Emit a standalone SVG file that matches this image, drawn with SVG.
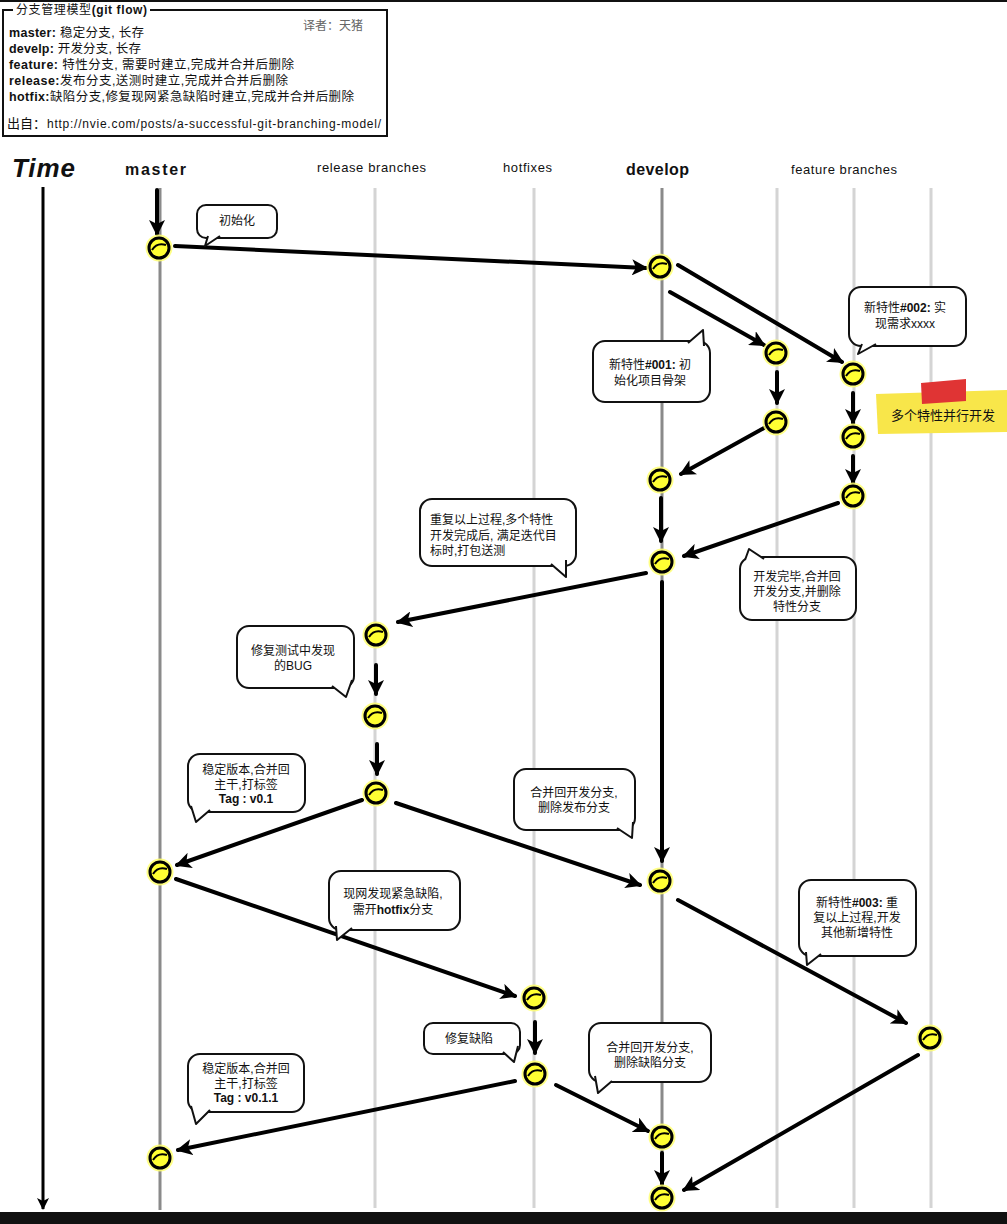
<svg xmlns="http://www.w3.org/2000/svg" width="1007" height="1224" viewBox="0 0 1007 1224">
<style>
  text { font-family: "Liberation Sans", "Noto Sans CJK SC", sans-serif; fill: #111; }
  .cn { font-size: 12px; }
  .hdr { font-size: 13px; }
  .hdrb { font-size: 16px; font-weight: bold; }
  .lane { stroke: #d4d4d4; stroke-width: 3; }
  .lanem { stroke: #8a8a8a; stroke-width: 3; }
  .arr { stroke: #000; stroke-width: 4; fill: none; marker-end: url(#ah); stroke-linecap: round; }
  .bub { fill: #fff; stroke: #111; stroke-width: 2; }
  .tail { fill: #fff; stroke: #111; stroke-width: 2; stroke-linejoin: round; }
  .mid { text-anchor: middle; }
  .lg { font-size: 12.5px; }
</style>
<defs>
  <marker id="ah" markerUnits="userSpaceOnUse" markerWidth="18" markerHeight="16" refX="14" refY="8" orient="auto">
    <path d="M0,0 L16,8 L0,16 L4,8 z" fill="#000"/>
  </marker>
  <marker id="aht" markerUnits="userSpaceOnUse" markerWidth="14" markerHeight="14" refX="11" refY="6" orient="auto">
    <path d="M0,0 L12,6 L0,12 L3,6 z" fill="#000"/>
  </marker>
  <g id="commit">
    <circle r="13.5" fill="#ffff70" opacity="0.85"/>
    <circle r="10" fill="#ffff33" stroke="#000" stroke-width="3"/>
    <path d="M-7,2 Q-2,-6 7,-3" fill="none" stroke="#000" stroke-width="2"/>
  </g>
</defs>
<rect x="0" y="0" width="1007" height="1224" fill="#fff"/>
<rect x="0" y="0" width="1007" height="2" fill="#111"/>
<rect x="0" y="1212" width="1007" height="12" fill="#111"/>

<g id="legend">
  <rect x="3" y="10" width="384" height="126" fill="#fff" stroke="#111" stroke-width="2"/>
  <rect x="13" y="3" width="137" height="14" fill="#fff"/>
  <text x="16" y="14" style="font-size:12px" textLength="131">分支管理模型<tspan font-weight="bold">(git flow)</tspan></text>
  <text x="303" y="30" style="font-size:12px;fill:#666">译者：天猪</text>
  <text x="9" y="37" class="lg" textLength="135"><tspan font-weight="bold">master:</tspan> 稳定分支, 长存</text>
  <text x="9" y="53" class="lg" textLength="132"><tspan font-weight="bold">develp:</tspan> 开发分支, 长存</text>
  <text x="9" y="69" class="lg" textLength="285"><tspan font-weight="bold">feature:</tspan> 特性分支, 需要时建立,完成并合并后删除</text>
  <text x="9" y="85" class="lg" textLength="279"><tspan font-weight="bold">release:</tspan>发布分支,送测时建立,完成并合并后删除</text>
  <text x="9" y="101" class="lg" textLength="345"><tspan font-weight="bold">hotfix:</tspan>缺陷分支,修复现网紧急缺陷时建立,完成并合并后删除</text>
  <text x="7" y="128" style="font-size:13px">出自：</text>
  <text x="47" y="128" style="font-size:12px" textLength="334">http://nvie.com/posts/a-successful-git-branching-model/</text>
</g>

<g id="headers">
  <text x="12" y="177" style="font-size:26px;font-weight:bold;font-style:italic" textLength="63">Time</text>
  <text x="125" y="175" class="hdrb" textLength="61">master</text>
  <text x="317" y="172" class="hdr" textLength="109">release branches</text>
  <text x="503" y="172" class="hdr" textLength="49">hotfixes</text>
  <text x="626" y="175" class="hdrb" textLength="63">develop</text>
  <text x="791" y="174" class="hdr" textLength="106">feature branches</text>
</g>

<g id="lanes">
  <line x1="160" y1="188" x2="160" y2="1210" class="lanem"/>
  <line x1="375" y1="188" x2="375" y2="1208" class="lane"/>
  <line x1="534" y1="188" x2="534" y2="1208" class="lane"/>
  <line x1="662" y1="188" x2="662" y2="1210" class="lanem"/>
  <line x1="777" y1="188" x2="777" y2="1208" class="lane"/>
  <line x1="854" y1="188" x2="854" y2="1208" class="lane"/>
  <line x1="931" y1="188" x2="931" y2="1208" class="lane"/>
</g>

<g id="connectors">
  <line x1="43" y1="187" x2="43" y2="1209" stroke="#000" stroke-width="3" marker-end="url(#aht)"/>
  <line x1="157" y1="190" x2="157" y2="234" class="arr"/>
  <line x1="175" y1="246" x2="646" y2="268" class="arr"/>
  <line x1="678" y1="265" x2="842" y2="362" class="arr"/>
  <line x1="670" y1="292" x2="764" y2="345" class="arr"/>
  <line x1="777" y1="372" x2="777" y2="403" class="arr"/>
  <line x1="853" y1="393" x2="853" y2="423" class="arr"/>
  <line x1="764" y1="428" x2="681" y2="474" class="arr"/>
  <line x1="853" y1="456" x2="853" y2="483" class="arr"/>
  <line x1="661" y1="498" x2="661" y2="541" class="arr"/>
  <line x1="838" y1="503" x2="684" y2="556" class="arr"/>
  <line x1="646" y1="573" x2="398" y2="622" class="arr"/>
  <line x1="662" y1="582" x2="662" y2="861" class="arr"/>
  <line x1="376" y1="665" x2="376" y2="694" class="arr"/>
  <line x1="377" y1="744" x2="377" y2="774" class="arr"/>
  <line x1="362" y1="800" x2="177" y2="865" class="arr"/>
  <line x1="396" y1="803" x2="640" y2="885" class="arr"/>
  <line x1="176" y1="879" x2="515" y2="996" class="arr"/>
  <line x1="678" y1="900" x2="906" y2="1023" class="arr"/>
  <line x1="535" y1="1022" x2="535" y2="1053" class="arr"/>
  <line x1="515" y1="1081" x2="178" y2="1150" class="arr"/>
  <line x1="556" y1="1085" x2="648" y2="1131" class="arr"/>
  <line x1="662" y1="1153" x2="662" y2="1184" class="arr"/>
  <line x1="918" y1="1055" x2="684" y2="1190" class="arr"/>
</g>

<g id="commits">
  <use href="#commit" x="159" y="248"/>
  <use href="#commit" x="660" y="267"/>
  <use href="#commit" x="776" y="353"/>
  <use href="#commit" x="853" y="374"/>
  <use href="#commit" x="776" y="422"/>
  <use href="#commit" x="853" y="437"/>
  <use href="#commit" x="660" y="480"/>
  <use href="#commit" x="853" y="496"/>
  <use href="#commit" x="662" y="562"/>
  <use href="#commit" x="376" y="635"/>
  <use href="#commit" x="375" y="716"/>
  <use href="#commit" x="376" y="793"/>
  <use href="#commit" x="160" y="872"/>
  <use href="#commit" x="660" y="881"/>
  <use href="#commit" x="534" y="998"/>
  <use href="#commit" x="930" y="1038"/>
  <use href="#commit" x="535" y="1074"/>
  <use href="#commit" x="662" y="1137"/>
  <use href="#commit" x="160" y="1158"/>
  <use href="#commit" x="662" y="1198"/>
</g>

<g id="note-init">
  <rect x="197" y="205" width="80" height="33" rx="9" class="bub"/>
  <path d="M208,236 L205,246 L220,236" class="tail"/>
  <text x="237" y="225" class="cn mid">初始化</text>
</g>

<g id="note-f002">
  <rect x="849" y="287" width="117" height="59" rx="12" class="bub"/>
  <path d="M862,344 L858,354 L876,344" class="tail"/>
  <text x="905" y="312" class="cn mid">新特性<tspan font-weight="bold">#002:</tspan> 实</text>
  <text x="905" y="328" class="cn mid">现需求xxxx</text>
</g>

<g id="note-f001">
  <rect x="593" y="341" width="117" height="61" rx="12" class="bub"/>
  <path d="M688,343 L703,330 L704,346" class="tail"/>
  <text x="650" y="369" class="cn mid">新特性<tspan font-weight="bold">#001:</tspan> 初</text>
  <text x="650" y="385" class="cn mid">始化项目骨架</text>
</g>

<g id="sticky">
  <polygon points="876,394 1007,390 1007,432 878,434" fill="#f8e64a"/>
  <polygon points="921,383 966,379 966,401 922,404" fill="#e03434"/>
  <text x="943" y="420" class="mid" style="font-size:13px">多个特性并行开发</text>
</g>

<g id="note-repeat">
  <rect x="420" y="499" width="156" height="67" rx="12" class="bub"/>
  <path d="M551,564 L566,577 L566,560" class="tail"/>
  <text x="430" y="524" class="cn">重复以上过程,多个特性</text>
  <text x="430" y="540" class="cn">开发完成后, 满足迭代目</text>
  <text x="430" y="555" class="cn">标时,打包送测</text>
</g>

<g id="note-done">
  <rect x="740" y="557" width="116" height="63" rx="12" class="bub"/>
  <path d="M745,560 L749,549 L764,559" class="tail"/>
  <text x="797" y="581" class="cn mid">开发完毕,合并回</text>
  <text x="797" y="596" class="cn mid">开发分支,并删除</text>
  <text x="797" y="611" class="cn mid">特性分支</text>
</g>

<g id="note-bug">
  <rect x="237" y="626" width="117" height="62" rx="12" class="bub"/>
  <path d="M332,686 L346,697 L352,680" class="tail"/>
  <text x="293" y="655" class="cn mid">修复测试中发现</text>
  <text x="293" y="670" class="cn mid">的BUG</text>
</g>

<g id="note-v01">
  <rect x="188" y="754" width="117" height="58" rx="12" class="bub"/>
  <path d="M191,806 L196,822 L210,810" class="tail"/>
  <text x="246" y="774" class="cn mid">稳定版本,合并回</text>
  <text x="246" y="789" class="cn mid">主干,打标签</text>
  <text x="246" y="803" class="cn mid" font-weight="bold">Tag :  v0.1</text>
</g>

<g id="note-rel-merge">
  <rect x="514" y="769" width="121" height="61" rx="12" class="bub"/>
  <path d="M617,828 L632,838 L633,822" class="tail"/>
  <text x="574" y="797" class="cn mid">合并回开发分支,</text>
  <text x="574" y="812" class="cn mid">删除发布分支</text>
</g>

<g id="note-hotfix">
  <rect x="329" y="871" width="131" height="59" rx="12" class="bub"/>
  <path d="M336,926 L337,940 L352,928" class="tail"/>
  <text x="393" y="898" class="cn mid">现网发现紧急缺陷,</text>
  <text x="393" y="914" class="cn mid">需开<tspan font-weight="bold">hotfix</tspan>分支</text>
</g>

<g id="note-f003">
  <rect x="799" y="880" width="117" height="76" rx="12" class="bub"/>
  <path d="M806,952 L807,965 L821,954" class="tail"/>
  <text x="857" y="907" class="cn mid">新特性<tspan font-weight="bold">#003:</tspan> 重</text>
  <text x="857" y="922" class="cn mid">复以上过程,开发</text>
  <text x="857" y="937" class="cn mid">其他新增特性</text>
</g>

<g id="note-fix">
  <rect x="424" y="1023" width="96" height="31" rx="9" class="bub"/>
  <path d="M503,1052 L514,1062 L518,1046" class="tail"/>
  <text x="469" y="1043" class="cn mid">修复缺陷</text>
</g>

<g id="note-hf-merge">
  <rect x="589" y="1023" width="122" height="59" rx="12" class="bub"/>
  <path d="M595,1076 L598,1093 L612,1081" class="tail"/>
  <text x="650" y="1052" class="cn mid">合并回开发分支,</text>
  <text x="650" y="1067" class="cn mid">删除缺陷分支</text>
</g>

<g id="note-v011">
  <rect x="188" y="1054" width="116" height="58" rx="12" class="bub"/>
  <path d="M191,1106 L196,1124 L210,1110" class="tail"/>
  <text x="246" y="1073" class="cn mid">稳定版本,合并回</text>
  <text x="246" y="1088" class="cn mid">主干,打标签</text>
  <text x="246" y="1102" class="cn mid" font-weight="bold">Tag :  v0.1.1</text>
</g>
</svg>
